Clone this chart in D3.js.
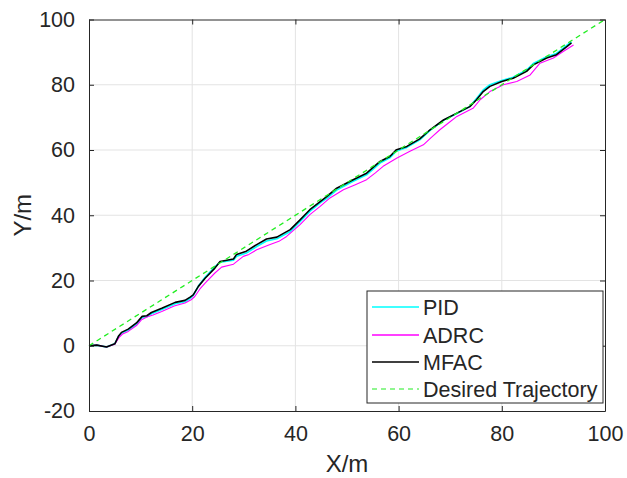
<!DOCTYPE html>
<html>
<head>
<meta charset="utf-8">
<script src="https://d3js.org/d3.v7.min.js"></script>
<style>
  body { margin: 0; background: #fff; }
  text { font-family: "Liberation Sans", Arial, sans-serif; fill: #262626; }
</style>
</head>
<body>
<svg id="chart" width="627" height="478"></svg>
<script>
// tick values
var xTicks = [0, 20, 40, 60, 80, 100];
var yTicks = [-20, 0, 20, 40, 60, 80, 100];

// trajectories, [x, y]
var mfac = [[0,0],[1.5,0.2],[3.4,-0.4],[5.0,0.6],[5.7,2.9],[6.3,4.1],[7.6,5.1],[9.2,7.0],[10.3,9.0],[11.2,9.2],
  [12.1,10.2],[14.1,11.5],[16.7,13.3],[18.6,13.9],[19.6,14.9],[20.2,15.6],[21.2,18.2],[22.5,20.7],[24.4,23.8],
  [25.4,25.8],[28,26.6],[28.6,28.0],[30.5,29.0],[32.5,31.0],[34.4,32.7],[36.4,33.3],[39,35.6],[40.9,38.6],
  [42.8,41.7],[44.8,44.2],[46,45.6],[48,48.3],[51.2,50.9],[53.8,52.9],[56.4,56.5],[58.3,58.0],[59.6,60.1],
  [61.6,61.1],[64.1,63.4],[66.1,66.2],[68.7,69.2],[71.3,71.3],[73.8,73.3],[75.1,75.4],[76.4,77.9],[77.7,79.5],
  [80,81],[82.2,82],[84.8,84.1],[86.1,86.1],[88.7,88.2],[90.6,89.2],[92.6,91.7],[93.5,92.8]];

var pid = [[0,0],[1.5,0.2],[3.4,-0.4],[5.0,0.6],[5.7,2.8],[6.3,3.9],[7.6,4.8],[9.2,6.6],[10.3,8.7],[11.2,8.9],
  [12.1,9.8],[14.1,11.1],[16.7,12.9],[18.6,13.5],[19.6,14.5],[20.2,15.4],[21.2,18.3],[22.5,21.0],[24.4,24.2],
  [25.4,25.6],[28,26.2],[28.6,27.4],[30.5,28.4],[32.5,30.4],[34.4,32.1],[36.4,32.8],[39,35.0],[40.9,38.0],
  [42.8,41.2],[44.8,43.8],[46,45.1],[48,47.7],[51.2,50.4],[53.8,52.4],[56.4,56.0],[58.3,57.6],[59.6,59.7],
  [61.6,60.8],[64.1,63.1],[66.1,66.0],[68.7,69.1],[71.3,71.2],[73.8,73.3],[75.1,75.8],[76.4,78.4],[77.7,80.0],
  [80,81.3],[82.2,82.3],[84.8,84.5],[86.1,86.5],[88.7,88.6],[90.6,89.6],[92.6,92.1],[93.5,93.1]];

var adrc = [[0,0],[1.5,0.2],[3.4,-0.4],[5.0,0.5],[5.8,2.5],[6.5,3.6],[7.6,4.4],[9.2,6.2],[10.2,8.0],[11.2,8.8],
  [12.4,9.4],[14.1,10.5],[16.5,12.2],[18.6,13.1],[19.8,14.1],[20.5,15.1],[21.5,17.4],[22.5,19.2],[24.4,22.3],
  [25.7,24.1],[28,25.0],[29.9,27.4],[31,28.0],[32.5,29.4],[35.1,31.0],[36.8,32.0],[38.3,33.5],[40.9,37.1],
  [42.8,40.2],[44.8,42.7],[46.7,45.3],[49.3,47.8],[51.5,49.3],[53.8,50.9],[55.5,53.0],[57,55],[59.6,57.5],
  [62.2,59.6],[64.8,61.6],[66.3,63.8],[68,66.2],[69.6,68.2],[71.3,70.3],[74.5,72.9],[75.8,75.4],[77.7,77.9],
  [80.3,80],[82.9,81],[85.5,83],[87.4,86.6],[90,88.2],[91.9,90.2],[93.9,92.2]];

var desired = [[0,0],[100,100]];

var names = ["PID", "ADRC", "MFAC", "Desired Trajectory"];
var colors = ["#00ffff", "#ff00ff", "#000000", "#22ee22"];

var mLeft = 89, mRight = 605, mTop = 19.5, mBottom = 411;
var x = d3.scaleLinear().domain([0,100]).range([mLeft,mRight]);
var y = d3.scaleLinear().domain([-20,100]).range([mBottom,mTop]);

var svg = d3.select("#chart");
var axisColor = "#262626";

// grid
svg.append("g").selectAll("line").data(xTicks.slice(1,-1)).enter().append("line")
  .attr("x1", d => x(d)).attr("x2", d => x(d)).attr("y1", mTop).attr("y2", mBottom)
  .attr("stroke", "#e3e3e3").attr("stroke-width", 1);
svg.append("g").selectAll("line").data(yTicks.slice(1,-1)).enter().append("line")
  .attr("y1", d => y(d)).attr("y2", d => y(d)).attr("x1", mLeft).attr("x2", mRight)
  .attr("stroke", "#e3e3e3").attr("stroke-width", 1);

// lines
var line = d3.line().x(d => x(d[0])).y(d => y(d[1]));
var series = [pid, adrc, mfac];
var widths = [1.6, 1.1, 1.6];
series.forEach(function(s, i) {
  svg.append("path").datum(s).attr("d", line)
    .attr("fill", "none").attr("stroke", colors[i]).attr("stroke-width", widths[i])
    .attr("stroke-linejoin", "round");
});
svg.append("path").datum(desired).attr("d", line)
  .attr("fill", "none").attr("stroke", colors[3]).attr("stroke-width", 1.3)
  .attr("stroke-dasharray", "5,4");

// axes (box with inward ticks)
var tl = 5;
var fmt = d => String(d);
var xb = d3.axisBottom(x).tickValues(xTicks).tickSizeInner(-tl).tickSizeOuter(0).tickPadding(15).tickFormat(fmt);
var xt = d3.axisTop(x).tickValues(xTicks).tickSizeInner(-tl).tickSizeOuter(0).tickFormat("");
var yl = d3.axisLeft(y).tickValues(yTicks).tickSizeInner(-tl).tickSizeOuter(0).tickPadding(14).tickFormat(fmt);
var yr = d3.axisRight(y).tickValues(yTicks).tickSizeInner(-tl).tickSizeOuter(0).tickFormat("");

function style(g) {
  g.selectAll(".domain").attr("stroke", axisColor).attr("stroke-width", 1);
  g.selectAll(".tick line").attr("stroke", axisColor);
  g.selectAll(".tick text").style("font-family", "'Liberation Sans', Arial, sans-serif")
    .style("font-size", "21.5px").attr("fill", axisColor);
}
svg.append("g").attr("transform", "translate(0," + mBottom + ")").call(xb).call(style);
svg.append("g").attr("transform", "translate(0," + mTop + ")").call(xt).call(style);
svg.append("g").attr("transform", "translate(" + mLeft + ",0)").call(yl).call(style);
svg.append("g").attr("transform", "translate(" + mRight + ",0)").call(yr).call(style);

// axis labels
svg.append("text").attr("x", (mLeft+mRight)/2).attr("y", 472).attr("text-anchor", "middle")
  .style("font-size", "24px").text("X/m");
svg.append("text").attr("transform", "translate(31," + ((mTop+mBottom)/2) + ") rotate(-90)")
  .attr("text-anchor", "middle").style("font-size", "24px").text("Y/m");

// legend
var lg = svg.append("g");
lg.append("rect").attr("x", 367).attr("y", 291).attr("width", 236).attr("height", 112)
  .attr("fill", "#fff").attr("stroke", axisColor).attr("stroke-width", 1);
var rows = [307, 335, 362, 389];
names.forEach(function(n, i) {
  lg.append("line").attr("x1", 372).attr("x2", 419).attr("y1", rows[i]).attr("y2", rows[i])
    .attr("stroke", colors[i]).attr("stroke-width", i == 3 ? 1.2 : 1.3)
    .attr("stroke-dasharray", i == 3 ? "5,4" : null);
  lg.append("text").attr("x", 423).attr("y", rows[i] + 7.5).style("font-size", "21.5px").text(n);
});
</script>
</body>
</html>
